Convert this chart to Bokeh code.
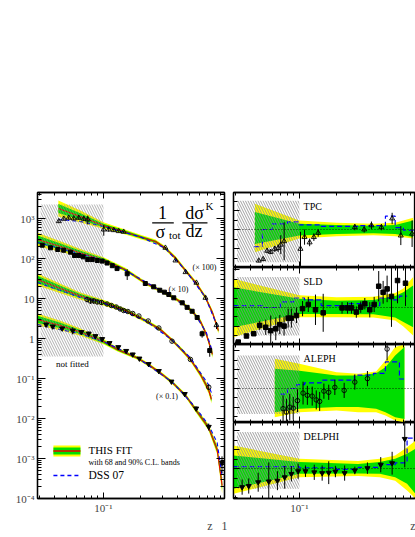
import numpy as np
from bokeh.plotting import figure
from bokeh.models import (Range1d, FixedTicker, LogAxis, CustomJSTickFormatter,
                          Span, Title)
from bokeh.layouts import row, column
from bokeh.embed import file_html
from bokeh.resources import INLINE
from bokeh.core.properties import value

FONT = "Liberation Serif"
YEL = "#ffff00"
GRN = "#00dd00"
RED = "#ee0000"
BLUE = "#0000ff"
HATCH = "#8a8a8a"
NB = "\u00a0"

# ================= LEFT PANEL: 1/sigma dsigma/dz (scaled) =================
# TPC (x100), open triangles
tpc_z = [0.0434, 0.0476, 0.0522, 0.0573, 0.063, 0.0692, 0.0746, 0.1006, 0.1104, 0.1213,
         0.1331, 0.146, 0.319, 0.385, 0.465, 0.57, 0.675, 0.83]
tpc_v = [855, 983, 1040, 1000, 1040, 983, 944, 530, 530, 510, 482, 464, 185, 89, 45.5, 24.7, 10.4, 2.15]
tpc_e = [0.08, 0.08, 0.08, 0.08, 0.1, 0.12, 0.25, 0.3, 0.12, 0.08, 0.06, 0.06, 0.05, 0.05, 0.05, 0.06, 0.1, 0.2]
# SLD (x10), filled squares
sld_z = [0.0318, 0.0371, 0.0425, 0.0475, 0.0539, 0.0581, 0.063, 0.0684, 0.0745, 0.081, 0.089, 0.0976,
         0.107, 0.118, 0.129, 0.156, 0.219, 0.256, 0.287, 0.313, 0.34, 0.373, 0.437, 0.479, 0.526,
         0.578, 0.634, 0.731]
sld_v = [215, 185, 168, 161, 144, 119, 119, 110, 94, 94, 89, 86, 77, 66, 56, 41.5, 23.7, 19.6, 16.1,
         14.4, 12.6, 10.4, 7.8, 6.0, 4.8, 3.35, 1.31, 0.5]
sld_e = [0.03, 0.03, 0.03, 0.05, 0.05, 0.08, 0.06, 0.06, 0.06, 0.06, 0.06, 0.06, 0.06, 0.06, 0.08, 0.3,
         0.05, 0.05, 0.05, 0.05, 0.05, 0.05, 0.06, 0.08, 0.08, 0.1, 0.2, 0.3]
# ALEPH (x1), open circles
aleph_z = [0.0736, 0.0784, 0.0834, 0.089, 0.0964, 0.107, 0.116, 0.127, 0.137, 0.146, 0.158, 0.173,
           0.194, 0.231, 0.282, 0.361, 0.509, 0.718]
aleph_v = [9.44, 8.66, 8.66, 8.18, 7.94, 7.29, 6.68, 6.13, 5.46, 5.01, 4.73, 4.22, 3.65, 2.74, 1.83,
           0.857, 0.3, 0.0606]
aleph_e = [0.15, 0.15, 0.15, 0.12, 0.12, 0.1, 0.1, 0.1, 0.1, 0.1, 0.08, 0.08, 0.08, 0.08, 0.08, 0.08, 0.1, 0.15]
# DELPHI (x0.1), filled down-triangles
delphi_z = [0.0342, 0.0387, 0.0462, 0.0563, 0.0662, 0.0759, 0.086, 0.0976, 0.112, 0.132, 0.153, 0.173,
            0.196, 0.233, 0.282, 0.357, 0.458, 0.567, 0.718, 0.92]
delphi_v = [2.24, 2.0, 1.78, 1.58, 1.45, 1.33, 1.15, 0.97, 0.77, 0.61, 0.49, 0.40, 0.316, 0.23, 0.154,
            0.084, 0.041, 0.0178, 0.0062, 0.00078]
delphi_e = [0.1, 0.1, 0.12, 0.2, 0.12, 0.12, 0.1, 0.1, 0.08, 0.08, 0.08, 0.1, 0.06, 0.08, 0.05, 0.06,
            0.08, 0.12, 0.2, 0.45]

# fit central values and band half widths (in decades)
tpc_fz = [0.043, 0.065, 0.1, 0.146, 0.2, 0.265, 0.319, 0.385, 0.465, 0.57, 0.675, 0.769, 0.861]
tpc_fv = [1778, 1122, 668, 473, 345, 265, 180, 103, 50, 23.7, 10.6, 4.47, 1.58]
tpc_wy = [0.2, 0.15, 0.08, 0.06, 0.055, 0.05, 0.05, 0.05, 0.05, 0.05, 0.055, 0.06, 0.08]
tpc_wg = [0.11, 0.08, 0.045, 0.035, 0.03, 0.028, 0.028, 0.028, 0.028, 0.028, 0.03, 0.035, 0.045]

sld_fz = [0.0291, 0.0447, 0.065, 0.1, 0.151, 0.219, 0.29, 0.37, 0.438, 0.53, 0.615, 0.687, 0.741, 0.769]
sld_fv = [298, 200, 137, 92, 52, 24.4, 15.8, 10.6, 7.7, 4.7, 2.66, 1.26, 0.6, 0.4]
sld_wy = [0.17, 0.13, 0.1, 0.07, 0.05, 0.045, 0.045, 0.045, 0.045, 0.05, 0.06, 0.07, 0.08, 0.09]
sld_wg = [0.1, 0.075, 0.055, 0.04, 0.03, 0.025, 0.025, 0.025, 0.025, 0.03, 0.035, 0.04, 0.045, 0.05]

aleph_fz = [0.0291, 0.0447, 0.065, 0.1, 0.151, 0.219, 0.29, 0.364, 0.438, 0.509, 0.615, 0.715, 0.755]
aleph_fv = [29.9, 17.8, 11.5, 7.9, 5.0, 2.8, 1.68, 0.89, 0.5, 0.3, 0.126, 0.053, 0.03]
aleph_wy = [0.15, 0.12, 0.09, 0.07, 0.05, 0.045, 0.045, 0.045, 0.05, 0.055, 0.07, 0.09, 0.1]
aleph_wg = [0.09, 0.07, 0.05, 0.04, 0.03, 0.025, 0.025, 0.025, 0.03, 0.03, 0.04, 0.05, 0.06]

delphi_fz = [0.0291, 0.0447, 0.065, 0.1, 0.13, 0.189, 0.241, 0.29, 0.364, 0.465, 0.56, 0.715, 0.84, 0.923]
delphi_fv = [2.99, 2.11, 1.45, 0.84, 0.53, 0.326, 0.205, 0.137, 0.079, 0.0376, 0.0168, 0.006, 0.00168, 0.00021]
delphi_wy = [0.15, 0.12, 0.09, 0.07, 0.05, 0.045, 0.045, 0.045, 0.045, 0.05, 0.06, 0.08, 0.12, 0.2]
delphi_wg = [0.09, 0.07, 0.05, 0.04, 0.03, 0.025, 0.025, 0.025, 0.025, 0.03, 0.035, 0.045, 0.07, 0.11]

# DSS 07 curves
tpc_dz = [0.043, 0.065, 0.1, 0.2, 0.319, 0.465, 0.675, 0.861]
tpc_dv = [944, 841, 631, 345, 180, 50, 10.6, 1.7]
sld_dz = [0.0291, 0.0447, 0.065, 0.1, 0.151, 0.29, 0.53, 0.687, 0.769]
sld_dv = [251, 178, 130, 90, 50, 16.2, 5.0, 1.4, 0.47]
aleph_dz = [0.0291, 0.065, 0.1, 0.219, 0.364, 0.509, 0.715, 0.769]
aleph_dv = [25, 10.6, 7.7, 2.8, 0.9, 0.33, 0.07, 0.037]
delphi_dz = [0.0291, 0.0447, 0.065, 0.1, 0.189, 0.364, 0.56, 0.715, 0.84, 0.925]
delphi_dv = [2.24, 1.67, 1.3, 0.84, 0.33, 0.08, 0.019, 0.0069, 0.0025, 0.00034]

# not-fitted region (left panel)
nf_z = [0.0308, 0.1]
nf_v = [0.355, 2240]

# ================= RIGHT PANELS: data / fit =================
tpc_rz = [0.0467, 0.0507, 0.0546, 0.0584, 0.063, 0.0671, 0.0705, 0.0751, 0.102, 0.110, 0.121, 0.131,
          0.142, 0.282, 0.336, 0.385, 0.464, 0.567, 0.667, 0.824]
tpc_r = [0.18, 0.22, 0.44, 0.41, 0.49, 0.51, 0.60, 0.69, 0.49, 0.80, 0.66, 0.80, 0.91, 1.06, 1.00, 1.11,
         1.06, 1.29, 0.84, 0.89]
tpc_re = [0.04, 0.04, 0.06, 0.06, 0.08, 0.1, 0.25, 0.5, 0.45, 0.2, 0.1, 0.1, 0.1, 0.08, 0.08, 0.1, 0.08,
          0.15, 0.25, 0.35]
sld_rz = [0.0318, 0.0371, 0.0425, 0.0475, 0.0532, 0.0584, 0.0642, 0.0692, 0.075, 0.081, 0.086, 0.0946,
          0.106, 0.118, 0.135, 0.156, 0.222, 0.246, 0.265, 0.29, 0.315, 0.34, 0.373, 0.405, 0.441, 0.479,
          0.516, 0.56, 0.627, 0.728]
sld_r = [0.09, 0.25, 0.31, 0.53, 0.48, 0.39, 0.44, 0.55, 0.51, 0.72, 0.72, 0.79, 0.97, 1.08, 0.94, 0.86,
         0.99, 0.99, 0.99, 0.88, 1.01, 1.10, 0.94, 1.08, 1.56, 1.40, 1.49, 1.29, 1.71, 1.64]
sld_re = [0.03, 0.05, 0.05, 0.12, 0.2, 0.4, 0.3, 0.25, 0.25, 0.25, 0.25, 0.2, 0.2, 0.2, 0.4, 0.5, 0.15,
          0.15, 0.15, 0.15, 0.15, 0.15, 0.2, 0.2, 0.4, 0.3, 0.35, 0.8, 0.6, 0.6]
aleph_rz = [0.0736, 0.0784, 0.0834, 0.089, 0.0964, 0.107, 0.116, 0.127, 0.137, 0.146, 0.158, 0.173,
            0.194, 0.231, 0.282, 0.357, 0.516]
aleph_r = [0.47, 0.38, 0.51, 0.48, 0.68, 0.88, 0.82, 0.80, 0.70, 0.66, 0.93, 0.90, 1.03, 0.95, 1.17,
           1.26, 2.04]
aleph_re = [0.35, 0.35, 0.35, 0.3, 0.3, 0.3, 0.25, 0.25, 0.25, 0.25, 0.2, 0.2, 0.2, 0.2, 0.2, 0.2, 0.3]
delphi_rz = [0.0342, 0.0387, 0.0462, 0.0563, 0.0662, 0.0759, 0.086, 0.0976, 0.112, 0.132, 0.153, 0.173,
             0.196, 0.233, 0.282, 0.357, 0.458, 0.567, 0.718]
delphi_r = [0.51, 0.54, 0.64, 0.66, 0.68, 0.77, 0.86, 0.93, 0.93, 0.90, 0.88, 0.89, 0.92, 0.88, 0.95,
            1.01, 1.10, 1.14, 1.78]
delphi_re = [0.2, 0.2, 0.25, 0.5, 0.25, 0.3, 0.2, 0.2, 0.15, 0.2, 0.2, 0.3, 0.15, 0.2, 0.1, 0.15, 0.2,
             0.3, 0.75]

# relative uncertainty bands (68% green, 90% yellow)
tpc_bz = [0.0434, 0.1, 0.2, 0.4, 0.6, 0.84]
tpc_ylo = [0.40, 0.76, 0.82, 0.85, 0.82, 0.76]
tpc_yhi = [1.68, 1.24, 1.18, 1.15, 1.18, 1.31]
tpc_glo = [0.62, 0.84, 0.88, 0.90, 0.88, 0.80]
tpc_ghi = [1.46, 1.15, 1.12, 1.10, 1.12, 1.24]
sld_bz = [0.0291, 0.1, 0.2, 0.4, 0.6, 0.7, 0.84]
sld_ylo = [0.22, 0.745, 0.745, 0.74, 0.66, 0.5, 0.26]
sld_yhi = [1.755, 1.32, 1.27, 1.28, 1.38, 1.5, 1.8]
sld_glo = [0.48, 0.83, 0.83, 0.82, 0.74, 0.62, 0.48]
sld_ghi = [1.53, 1.23, 1.18, 1.2, 1.3, 1.4, 1.58]
aleph_bz = [0.063, 0.1, 0.2, 0.3, 0.42, 0.5, 0.6, 0.714]
aleph_ylo = [0.245, 0.376, 0.42, 0.376, 0.376, 0.29, 0.16, 0.105]
aleph_yhi = [1.78, 1.65, 1.43, 1.39, 1.45, 1.74, 2.09, 2.158]
aleph_glo = [0.376, 0.466, 0.51, 0.51, 0.47, 0.376, 0.245, 0.2]
aleph_ghi = [1.52, 1.47, 1.34, 1.34, 1.4, 1.56, 1.87, 2.09]
delphi_bz = [0.0291, 0.1, 0.3, 0.45, 0.6, 0.75, 0.88]
delphi_ylo = [0.334, 0.77, 0.8, 0.77, 0.68, 0.42, 0.21]
delphi_yhi = [1.605, 1.255, 1.2, 1.255, 1.34, 1.56, 1.74]
delphi_glo = [0.466, 0.86, 0.87, 0.86, 0.77, 0.6, 0.33]
delphi_ghi = [1.34, 1.17, 1.12, 1.17, 1.26, 1.39, 1.52]

# DSS 07 / fit, binned
tpc_sz = [0.043, 0.05, 0.06, 0.08, 0.1, 0.15, 0.3, 0.5, 0.6, 0.7, 0.85]
tpc_sv = [0.55, 1.0, 1.15, 1.2, 1.12, 1.08, 1.1, 1.35, 1.05, 0.98]
sld_sz = [0.0291, 0.05, 0.07, 0.09, 0.11, 0.15, 0.25, 0.35, 0.45, 0.55, 0.65, 0.75]
sld_sv = [1.05, 1.0, 1.15, 1.25, 1.2, 1.05, 1.1, 1.05, 1.25, 1.2, 1.3]
aleph_sz = [0.07, 0.08, 0.095, 0.11, 0.15, 0.28, 0.4, 0.5, 0.65, 0.72]
aleph_sv = [0.85, 1.0, 1.1, 1.15, 1.22, 1.35, 1.4, 1.7, 1.25]
delphi_sz = [0.0291, 0.1, 0.2, 0.3, 0.45, 0.6, 0.75, 0.88]
delphi_sv = [1.05, 1.02, 0.98, 1.03, 1.1, 1.15, 1.8]

# not-fitted hatched boxes (z range, ratio range)
nf_rz = [0.0311, 0.1]
tpc_nf = [0.14, 1.76]
sld_nf = [0.26, 1.80]
aleph_nf = [0.33, 1.87]
delphi_nf = [0.47, 1.96]

# ======================================================================
SUPFMT = CustomJSTickFormatter(code="""
const e = Math.round(Math.log10(tick));
if (e === 0) return "1";
if (e === 1) return "10";
const sup = {"-":"\u207b","0":"\u2070","1":"\u00b9","2":"\u00b2","3":"\u00b3","4":"\u2074",
             "5":"\u2075","6":"\u2076","7":"\u2077","8":"\u2078","9":"\u2079"};
return "10" + String(e).split("").map(c => sup[c]).join("");
""")
BLANK = CustomJSTickFormatter(code="return '';")


def log_ticker(e0, e1):
    major = [10.0 ** e for e in range(e0, e1 + 1)]
    minor = [m * 10.0 ** e for e in range(e0, e1 + 1) for m in range(2, 10)]
    return FixedTicker(ticks=major, minor_ticks=minor)


def style_axis(ax, labels, major_in=7, minor_in=4):
    ax.axis_line_color = "black"
    ax.axis_line_width = 1.3
    ax.major_tick_in = major_in
    ax.major_tick_out = 0
    ax.minor_tick_in = minor_in
    ax.minor_tick_out = 0
    ax.major_tick_line_color = "black"
    ax.minor_tick_line_color = "black"
    ax.major_label_text_font = FONT
    ax.axis_label = None
    if labels:
        ax.major_label_text_font_size = "11px"
        ax.major_label_standoff = 3
        ax.formatter = SUPFMT
    else:
        ax.major_label_text_font_size = "0px"
        ax.major_label_standoff = 0
        ax.formatter = BLANK


# ---------------- left figure ----------------
left = figure(width=228, height=534, x_axis_type="log", y_axis_type="log",
              x_range=Range1d(0.0291, 0.964), y_range=Range1d(1e-4, 4467),
              output_backend="svg", toolbar_location=None,
              min_border_left=37, min_border_right=4, min_border_top=192, min_border_bottom=36,
              outline_line_color="black", outline_line_width=1.3)
left.grid.visible = False
left.xaxis[0].ticker = log_ticker(-2, 0)
left.yaxis[0].ticker = log_ticker(-4, 3)
style_axis(left.xaxis[0], True, 6, 3)
style_axis(left.yaxis[0], True, 8, 4)
ax_r = LogAxis(ticker=log_ticker(-4, 3))
style_axis(ax_r, False, 8, 4)
left.add_layout(ax_r, "right")
ax_t = LogAxis(ticker=log_ticker(-2, 0))
style_axis(ax_t, False, 6, 3)
left.add_layout(ax_t, "above")

series = [
    (tpc_fz, tpc_fv, tpc_wy, tpc_wg, tpc_dz, tpc_dv),
    (sld_fz, sld_fv, sld_wy, sld_wg, sld_dz, sld_dv),
    (aleph_fz, aleph_fv, aleph_wy, aleph_wg, aleph_dz, aleph_dv),
    (delphi_fz, delphi_fv, delphi_wy, delphi_wg, delphi_dz, delphi_dv),
]
for fz, fv, wy, wg, dz, dv in series:
    c = np.array(fv, dtype=float)
    left.varea(x=fz, y1=c * 10 ** (-np.array(wy)), y2=c * 10 ** np.array(wy), fill_color=YEL)
    left.varea(x=fz, y1=c * 10 ** (-np.array(wg)), y2=c * 10 ** np.array(wg), fill_color=GRN)
    left.line(fz, fv, line_color=RED, line_width=1.1)
    left.line(dz, dv, line_color=BLUE, line_width=1.1, line_dash="4 3")

# hatch over the bands, as in the original
left.quad(left=[nf_z[0]], right=[nf_z[1]], bottom=[nf_v[0]], top=[nf_v[1]],
          fill_alpha=0, line_color=None, hatch_pattern="\\", hatch_color=HATCH,
          hatch_alpha=0.85, hatch_scale=5, hatch_weight=0.8)


def err(p, z, v, e, rel):
    v = np.array(v, dtype=float)
    e = np.array(e, dtype=float)
    if rel:
        lo, hi = v * (1 - np.minimum(e, 0.9)), v * (1 + e)
    else:
        lo, hi = v - e, v + e
    p.segment(x0=z, y0=lo, x1=z, y1=hi, line_color="black", line_width=1)


for (z, v, e) in [(tpc_z, tpc_v, tpc_e), (sld_z, sld_v, sld_e), (aleph_z, aleph_v, aleph_e),
                  (delphi_z, delphi_v, delphi_e)]:
    err(left, z, v, e, True)
left.scatter(tpc_z, tpc_v, marker="triangle", size=5, fill_alpha=0, line_color="black", line_width=0.9)
left.scatter(sld_z, sld_v, marker="square", size=4, fill_color="black", line_color="black")
left.scatter(aleph_z, aleph_v, marker="circle", size=4.5, fill_alpha=0, line_color="black", line_width=0.9)
left.scatter(delphi_z, delphi_v, marker="inverted_triangle", size=5, fill_color="black", line_color="black")


# formula and labels
def txt(p, x, y, s, size, align="center", baseline="middle"):
    p.text(x=[x], y=[y], text=[s], text_font=value(FONT), text_font_size=size,
           text_align=align, text_baseline=baseline, text_color="black")


txt(left, 0.302, 1413, "1", "18px")
txt(left, 0.29, 473, "\u03c3", "18px")
txt(left, 0.38, 387, "tot", "11px")
txt(left, 0.55, 1334, "d\u03c3", "18px")
txt(left, 0.728, 2113, "K", "11px")
txt(left, 0.545, 487, "dz", "18px")
left.segment(x0=[0.249, 0.438], x1=[0.373, 0.701], y0=[780, 780], y1=[780, 780],
             line_color="black", line_width=1.2)
txt(left, 0.662, 59.6, "(\u00d7 100)", "8px")
txt(left, 0.407, 16.8, "(\u00d7 10)", "8px")
txt(left, 0.328, 0.0355, "(\u00d7 0.1)", "8px")
txt(left, 0.056, 0.237, "not fitted", "9px")

# legend
left.quad(left=[0.0392], right=[0.065], bottom=[1.12e-3], top=[2.11e-3], fill_color=YEL, line_color=None)
left.quad(left=[0.0392], right=[0.065], bottom=[1.26e-3], top=[1.88e-3], fill_color=GRN, line_color=None)
left.segment(x0=[0.0392], x1=[0.065], y0=[1.54e-3], y1=[1.54e-3], line_color=RED, line_width=1.3)
left.segment(x0=[0.0392], x1=[0.0626], y0=[3.76e-4], y1=[3.76e-4], line_color=BLUE, line_width=1.3,
             line_dash="4 3")
txt(left, 0.0755, 1.6e-3, "THIS FIT", "11px", align="left")
txt(left, 0.0755, 7.9e-4, "with 68 and 90% C.L. bands", "8px", align="left")
txt(left, 0.0755, 3.76e-4, "DSS 07", "11.5px", align="left")

left.add_layout(Title(text="z" + NB * 3 + "1", align="right", text_font=FONT, text_font_size="12px",
                      text_font_style="normal", standoff=0, offset=-3), "below")


# ---------------- right panels ----------------
def right_panel(name, yr, height, btop, bbot, bz, ylo, yhi, glo, ghi, sz, sv, nf,
                rz, r, re, marker, mfill, msize, last=False):
    p = figure(width=187, height=height, x_axis_type="log",
               x_range=Range1d(0.0291, 0.878), y_range=Range1d(*yr),
               output_backend="svg", toolbar_location=None,
               min_border_left=5, min_border_right=0, min_border_top=btop, min_border_bottom=bbot,
               outline_line_color="black", outline_line_width=1.3)
    p.grid.visible = False
    p.xaxis[0].ticker = log_ticker(-2, 0)
    style_axis(p.xaxis[0], last, 6, 3)
    p.yaxis[0].ticker = FixedTicker(ticks=[0.5, 1.0, 1.5, 2.0], minor_ticks=[0.25, 0.75, 1.25, 1.75])
    style_axis(p.yaxis[0], False, 6, 4)
    at = LogAxis(ticker=log_ticker(-2, 0))
    style_axis(at, False, 6, 3)
    p.add_layout(at, "above")
    p.varea(x=bz, y1=ylo, y2=yhi, fill_color=YEL)
    p.varea(x=bz, y1=glo, y2=ghi, fill_color=GRN)
    p.step(sz, list(sv) + [sv[-1]], mode="after", line_color=BLUE, line_width=1.2, line_dash="5 3")
    p.add_layout(Span(location=1.0, dimension="width", line_color="black", line_width=0.8,
                      line_dash="1 2"))
    p.quad(left=[nf_rz[0]], right=[nf_rz[1]], bottom=[nf[0]], top=[nf[1]],
           fill_alpha=0, line_color=None, hatch_pattern="\\", hatch_color=HATCH,
           hatch_scale=5, hatch_weight=0.8)
    err(p, rz, r, re, False)
    if mfill:
        p.scatter(rz, r, marker=marker, size=msize, fill_color="black", line_color="black")
    else:
        p.scatter(rz, r, marker=marker, size=msize, fill_alpha=0, line_color="black", line_width=0.9)
    txt(p, 0.108, yr[1] - 0.36, name, "10px", align="left")
    return p


tpc_p = right_panel("TPC", (0.0, 1.974), 267, 192, 0, tpc_bz, tpc_ylo, tpc_yhi, tpc_glo, tpc_ghi,
                    tpc_sz, tpc_sv, tpc_nf, tpc_rz, tpc_r, tpc_re, "triangle", False, 5)
sld_p = right_panel("SLD", (0.026, 2.053), 77, 0, 0, sld_bz, sld_ylo, sld_yhi, sld_glo, sld_ghi,
                    sld_sz, sld_sv, sld_nf, sld_rz, sld_r, sld_re, "square", True, 4.5)
aleph_p = right_panel("ALEPH", (0.105, 2.158), 78, 0, 0, aleph_bz, aleph_ylo, aleph_yhi, aleph_glo,
                      aleph_ghi, aleph_sz, aleph_sv, aleph_nf, aleph_rz, aleph_r, aleph_re,
                      "circle", False, 4.5)
delphi_p = right_panel("DELPHI", (0.211, 2.211), 112, 0, 36, delphi_bz, delphi_ylo, delphi_yhi,
                       delphi_glo, delphi_ghi, delphi_sz, delphi_sv, delphi_nf, delphi_rz, delphi_r,
                       delphi_re, "inverted_triangle", True, 5, last=True)
delphi_p.add_layout(Title(text="z", align="right", text_font=FONT, text_font_size="12px",
                          text_font_style="normal", standoff=0, offset=0), "below")

layout = row(left, column(tpc_p, sld_p, aleph_p, delphi_p, spacing=0), spacing=0)

open("out.html", "w").write(file_html(layout, INLINE))
